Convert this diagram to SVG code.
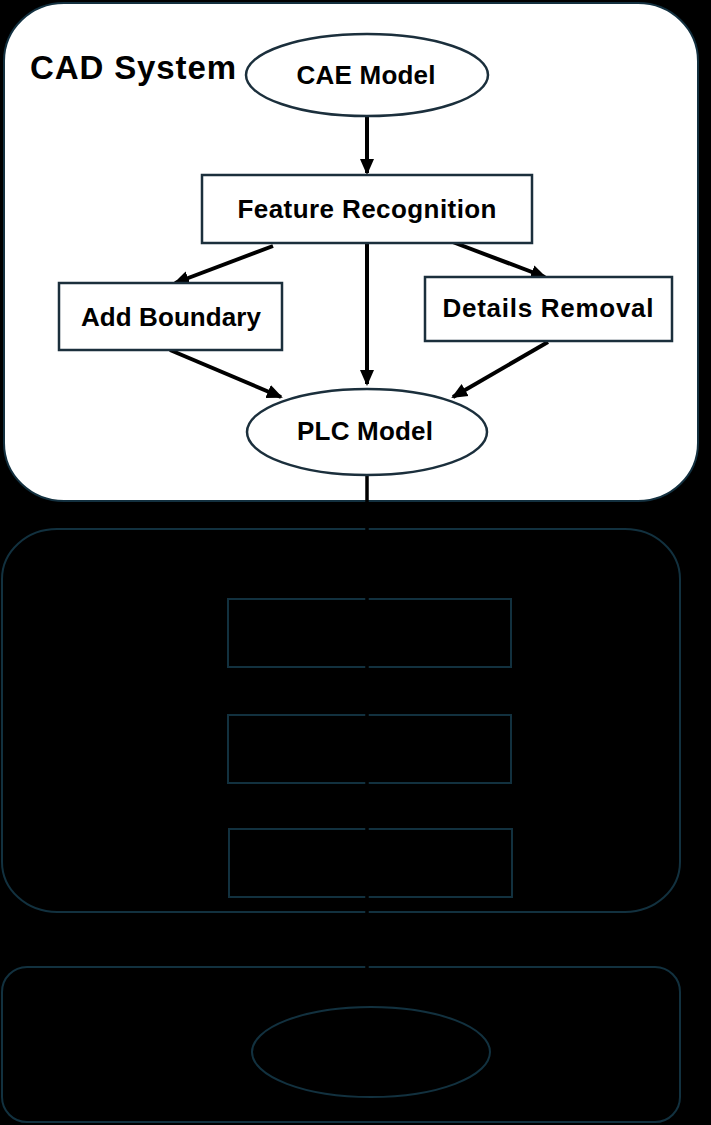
<svg xmlns="http://www.w3.org/2000/svg" width="711" height="1125" viewBox="0 0 711 1125">
<style>
.bg{fill:#000}
.panel{fill:#fff;stroke:#13303f;stroke-width:2}
.dpanel{fill:#000;stroke:#12313f;stroke-width:2}
.node{fill:#fff;stroke:#1b2f3c;stroke-width:2.5}
.dnode{fill:none;stroke:#12313f;stroke-width:2}
.lbl{font-family:"Liberation Sans",Arial,sans-serif;font-weight:bold;font-size:26px;fill:#000;text-anchor:middle}
.title{font-family:"Liberation Sans",Arial,sans-serif;font-weight:bold;font-size:33px;fill:#000}
.edge{stroke:#000;stroke-width:4;fill:none}
</style>
<defs>
<marker id="ah" markerUnits="userSpaceOnUse" markerWidth="16" markerHeight="16" viewBox="0 0 16 16" refX="14" refY="8" orient="auto">
<path d="M0,1 L16,8 L0,15 Z" fill="#000"/>
</marker>
</defs>
<rect class="bg" x="0" y="0" width="711" height="1125"/>
<g id="cad-system">
<rect class="panel" x="4" y="3" width="694" height="498" rx="60" ry="58"/>
<text class="title" x="30" y="79" textLength="206">CAD System</text>
</g>
<g id="panel2">
<rect class="dpanel" x="2" y="529" width="678" height="383" rx="55" ry="50"/>
</g>
<g id="panel3">
<rect class="dpanel" x="2" y="967" width="678" height="155" rx="25" ry="25"/>
</g>
<g id="box-a"><rect class="dnode" x="228" y="599" width="283" height="68"/></g>
<g id="box-b"><rect class="dnode" x="228" y="715" width="283" height="68"/></g>
<g id="box-c"><rect class="dnode" x="229" y="829" width="283" height="68"/></g>
<g id="ellipse-d"><ellipse class="dnode" cx="371" cy="1052" rx="119" ry="45"/></g>
<g id="connectors">
<line x1="367" y1="116" x2="367" y2="173" class="edge" marker-end="url(#ah)"/>
<line x1="273" y1="246" x2="175" y2="283" class="edge" marker-end="url(#ah)"/>
<line x1="450" y1="241" x2="545" y2="277" class="edge" marker-end="url(#ah)"/>
<line x1="367" y1="244" x2="367" y2="384" class="edge" marker-end="url(#ah)"/>
<line x1="170" y1="350" x2="281" y2="397" class="edge" marker-end="url(#ah)"/>
<line x1="548" y1="342" x2="453" y2="397" class="edge" marker-end="url(#ah)"/>
<line x1="367" y1="475" x2="367" y2="1006" stroke="#000" stroke-width="3.5"/>
</g>
<g id="cae-model">
<ellipse class="node" cx="367" cy="75" rx="121" ry="41"/>
<text class="lbl" x="366" y="84" textLength="139">CAE Model</text>
</g>
<g id="feature-recognition">
<rect class="node" x="202" y="175" width="330" height="68"/>
<text class="lbl" x="367" y="218" textLength="259">Feature Recognition</text>
</g>
<g id="add-boundary">
<rect class="node" x="59" y="283" width="223" height="67"/>
<text class="lbl" x="171" y="326" textLength="180">Add Boundary</text>
</g>
<g id="details-removal">
<rect class="node" x="425" y="277" width="247" height="64"/>
<text class="lbl" x="548" y="317" textLength="211">Details Removal</text>
</g>
<g id="plc-model">
<ellipse class="node" cx="367" cy="432" rx="120" ry="43"/>
<text class="lbl" x="365" y="440" textLength="136">PLC Model</text>
</g>
</svg>
